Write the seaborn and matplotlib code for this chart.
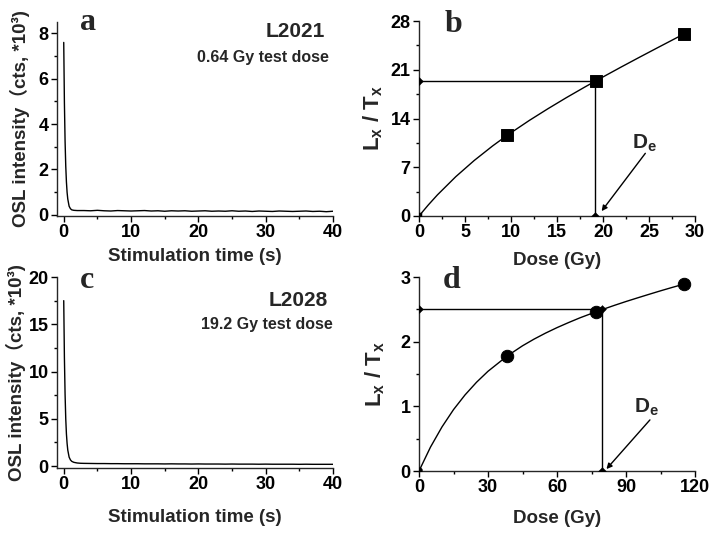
import matplotlib
matplotlib.use("Agg")
import matplotlib.pyplot as plt
from matplotlib.ticker import MultipleLocator, AutoMinorLocator
import seaborn as sns
import pandas as pd

# ---------------- data ----------------
# panel a: OSL decay curve, L2021 (x10^3 counts)
a_time = [0, 0.1, 0.2, 0.3, 0.4, 0.5, 0.6, 0.8, 1.0, 1.2, 1.5, 2.0, 2.5,
          3, 4, 5, 6, 7, 8, 9, 10, 11, 12,
          13, 14, 15, 16, 17, 18, 19, 20, 21, 22,
          23, 24, 25, 26, 27, 28, 29, 30, 31, 32,
          33, 34, 35, 36, 37, 38, 39, 40]
a_osl = [7.6, 4.95, 3.25, 2.15, 1.45, 0.99, 0.70, 0.38, 0.27, 0.22, 0.20, 0.19, 0.19,
         0.19, 0.18, 0.20, 0.18, 0.17, 0.19, 0.18, 0.17, 0.18, 0.19,
         0.17, 0.18, 0.16, 0.18, 0.17, 0.18, 0.16, 0.17, 0.18, 0.16,
         0.17, 0.16, 0.18, 0.16, 0.17, 0.15, 0.17, 0.16, 0.15, 0.17,
         0.16, 0.15, 0.16, 0.17, 0.15, 0.16, 0.14, 0.16]

# panel c: OSL decay curve, L2028 (x10^3 counts)
c_time = a_time
c_osl = [17.5, 11.5, 7.6, 5.0, 3.4, 2.4, 1.7, 0.95, 0.65, 0.50, 0.40, 0.33, 0.30,
         0.29, 0.28, 0.27, 0.27, 0.26, 0.26, 0.25, 0.25, 0.25, 0.24,
         0.24, 0.24, 0.23, 0.24, 0.23, 0.23, 0.22, 0.23, 0.22, 0.22,
         0.22, 0.21, 0.22, 0.21, 0.21, 0.21, 0.20, 0.21, 0.20, 0.20,
         0.20, 0.20, 0.19, 0.20, 0.19, 0.19, 0.19, 0.19]

# panel b: dose response, L2021
b_dose = [0, 9.6, 19.2, 28.8]
b_ratio = [0, 11.6, 19.4, 26.15]
b_fit_dose = [0, 1, 2, 4, 6, 8, 9.6, 12, 14, 16, 18, 19.2, 22, 24, 26, 28.8]
b_fit_ratio = [0, 1.57, 3.03, 5.65, 7.97, 10.06, 11.60, 13.73, 15.39, 16.98,
               18.50, 19.39, 21.41, 22.82, 24.21, 26.14]
b_de = 19.1
b_natural = 19.4

# panel d: dose response, L2028
d_dose = [0, 38.4, 76.8, 115.2]
d_ratio = [0.02, 1.78, 2.46, 2.89]
d_fit_dose = [0, 5, 10, 15, 20, 25, 30, 38.4, 45, 50, 55, 60, 65, 70, 76.8,
              79, 85, 90, 95, 100, 105, 110, 115.2]
d_fit_ratio = [0, 0.370, 0.682, 0.949, 1.176, 1.372, 1.542, 1.780, 1.936, 2.039,
               2.132, 2.217, 2.295, 2.369, 2.460, 2.488, 2.562, 2.621, 2.677,
               2.732, 2.786, 2.838, 2.890]
d_de = 79.5
d_natural = 2.5

# ---------------- style ----------------
sns.set_style("ticks")
plt.rcParams["font.family"] = ["Liberation Sans", "Noto Sans CJK SC", "DejaVu Sans"]
plt.rcParams["font.weight"] = "bold"
plt.rcParams["axes.labelweight"] = "bold"
plt.rcParams["mathtext.fontset"] = "custom"
plt.rcParams["mathtext.rm"] = "Liberation Sans:bold"
plt.rcParams["mathtext.bf"] = "Liberation Sans:bold"
plt.rcParams["mathtext.it"] = "Liberation Sans:bold"
plt.rcParams["mathtext.default"] = "bf"
plt.rcParams["axes.linewidth"] = 1.0
for ax_ in ("xtick", "ytick"):
    plt.rcParams[f"{ax_}.direction"] = "out"
    plt.rcParams[f"{ax_}.major.size"] = 4
    plt.rcParams[f"{ax_}.minor.size"] = 2
    plt.rcParams[f"{ax_}.major.width"] = 1.0
    plt.rcParams[f"{ax_}.minor.width"] = 1.0
    plt.rcParams[f"{ax_}.labelsize"] = 13
    plt.rcParams[f"{ax_}.color"] = "black"
    plt.rcParams[f"{ax_}.major.pad"] = 2

W, H = 719, 534
fig = plt.figure(figsize=(W / 100, H / 100), dpi=100)


def make_ax(left, top, right, bottom):
    return fig.add_axes([left / W, 1 - bottom / H, (right - left) / W, (bottom - top) / H])


ax_a = make_ax(57, 22, 333, 216)
ax_b = make_ax(419, 21, 695, 216)
ax_c = make_ax(57, 277, 333, 468)
ax_d = make_ax(419, 277, 695, 471)

for ax in (ax_a, ax_b, ax_c, ax_d):
    sns.despine(ax=ax)
    ax.xaxis.set_minor_locator(AutoMinorLocator(2))
    ax.yaxis.set_minor_locator(AutoMinorLocator(2))

serif = ["Liberation Serif", "DejaVu Serif"]
ylab_osl = "OSL intensity（cts, *10³)"

# ---- panel a ----
dfa = pd.DataFrame({"t": a_time, "v": a_osl})
sns.lineplot(data=dfa, x="t", y="v", ax=ax_a, color="black", lw=1.0)
ax_a.set_xlim(-1, 40)
ax_a.set_ylim(-0.05, 8.5)
ax_a.xaxis.set_major_locator(MultipleLocator(10))
ax_a.yaxis.set_major_locator(MultipleLocator(2))
ax_a.set_xlabel("Stimulation time (s)", fontsize=13.5, labelpad=5)
ax_a.set_ylabel(ylab_osl, fontsize=13.5, labelpad=6)
ax_a.text(0.083, 0.959, "a", transform=ax_a.transAxes, family=serif,
          fontsize=23, fontweight="bold", va="baseline", ha="left")
ax_a.text(0.971, 0.924, "L2021", transform=ax_a.transAxes, fontsize=15,
          fontweight="bold", va="baseline", ha="right")
ax_a.text(0.986, 0.795, "0.64 Gy test dose", transform=ax_a.transAxes, fontsize=11.5,
          fontweight="bold", va="baseline", ha="right")

# ---- panel c ----
dfc = pd.DataFrame({"t": c_time, "v": c_osl})
sns.lineplot(data=dfc, x="t", y="v", ax=ax_c, color="black", lw=1.0)
ax_c.set_xlim(-1, 40)
ax_c.set_ylim(-0.2, 20)
ax_c.xaxis.set_major_locator(MultipleLocator(10))
ax_c.yaxis.set_major_locator(MultipleLocator(5))
ax_c.set_xlabel("Stimulation time (s)", fontsize=13.5, labelpad=11)
ax_c.set_ylabel(ylab_osl, fontsize=13.5, labelpad=2)
ax_c.text(0.083, 0.942, "c", transform=ax_c.transAxes, family=serif,
          fontsize=23, fontweight="bold", va="baseline", ha="left")
ax_c.text(0.982, 0.848, "L2028", transform=ax_c.transAxes, fontsize=15,
          fontweight="bold", va="baseline", ha="right")
ax_c.text(1.0, 0.728, "19.2 Gy test dose", transform=ax_c.transAxes, fontsize=11.5,
          fontweight="bold", va="baseline", ha="right")

# ---- panel b ----
dfb_fit = pd.DataFrame({"x": b_fit_dose, "y": b_fit_ratio})
sns.lineplot(data=dfb_fit, x="x", y="y", ax=ax_b, color="black", lw=1.0)
sns.lineplot(x=[0, b_de, b_de], y=[b_natural, b_natural, 0], ax=ax_b,
             color="black", lw=1.0, sort=False, estimator=None)
sns.scatterplot(x=b_dose[1:], y=b_ratio[1:], ax=ax_b, marker="s", s=70,
                color="black", edgecolor="black", zorder=5)
sns.scatterplot(x=b_dose[:1], y=b_ratio[:1], ax=ax_b, marker="s", s=18,
                color="black", edgecolor="black", zorder=5)
sns.scatterplot(x=[0, b_de], y=[b_natural, 0], ax=ax_b, marker="D", s=16,
                color="black", edgecolor="black", zorder=5)
ax_b.set_xlim(0, 30)
ax_b.set_ylim(0, 28)
ax_b.xaxis.set_major_locator(MultipleLocator(5))
ax_b.yaxis.set_major_locator(MultipleLocator(7))
ax_b.set_xlabel("Dose (Gy)", fontsize=13.5, labelpad=8)
ax_b.set_ylabel("L$_x$ / T$_x$", fontsize=16, labelpad=4)
ax_b.text(0.094, 0.944, "b", transform=ax_b.transAxes, family=serif,
          fontsize=23, fontweight="bold", va="baseline", ha="left")
ax_b.text(23.2, 10.5, "D$_e$", fontsize=15, fontweight="bold", va="center", ha="left")
ax_b.annotate("", xy=(19.85, 0.7), xytext=(24.6, 9.0),
              arrowprops=dict(arrowstyle="-|>", color="black", lw=1.0,
                              mutation_scale=8, shrinkA=0, shrinkB=0))

# ---- panel d ----
dfd_fit = pd.DataFrame({"x": d_fit_dose, "y": d_fit_ratio})
sns.lineplot(data=dfd_fit, x="x", y="y", ax=ax_d, color="black", lw=1.0)
sns.lineplot(x=[0, d_de, d_de], y=[d_natural, d_natural, 0], ax=ax_d,
             color="black", lw=1.0, sort=False, estimator=None)
sns.scatterplot(x=d_dose[1:], y=d_ratio[1:], ax=ax_d, marker="o", s=80,
                color="black", edgecolor="black", zorder=5)
sns.scatterplot(x=d_dose[:1], y=d_ratio[:1], ax=ax_d, marker="o", s=18,
                color="black", edgecolor="black", zorder=5)
sns.scatterplot(x=[0, d_de, d_de], y=[d_natural, d_natural, 0], ax=ax_d, marker="D",
                s=16, color="black", edgecolor="black", zorder=5)
ax_d.set_xlim(0, 120)
ax_d.set_ylim(0, 3)
ax_d.xaxis.set_major_locator(MultipleLocator(30))
ax_d.yaxis.set_major_locator(MultipleLocator(1))
ax_d.set_xlabel("Dose (Gy)", fontsize=13.5, labelpad=10)
ax_d.set_ylabel("L$_x$ / T$_x$", fontsize=16, labelpad=10)
ax_d.text(0.087, 0.943, "d", transform=ax_d.transAxes, family=serif,
          fontsize=23, fontweight="bold", va="baseline", ha="left")
ax_d.text(93.5, 0.98, "D$_e$", fontsize=15, fontweight="bold", va="center", ha="left")
ax_d.annotate("", xy=(81.5, 0.03), xytext=(100.4, 0.79),
              arrowprops=dict(arrowstyle="-|>", color="black", lw=1.0,
                              mutation_scale=8, shrinkA=0, shrinkB=0))

for ax in (ax_a, ax_b, ax_c, ax_d):
    for lab in ax.get_xticklabels() + ax.get_yticklabels():
        lab.set_fontweight("bold")

fig.savefig("out.png", dpi=100)
